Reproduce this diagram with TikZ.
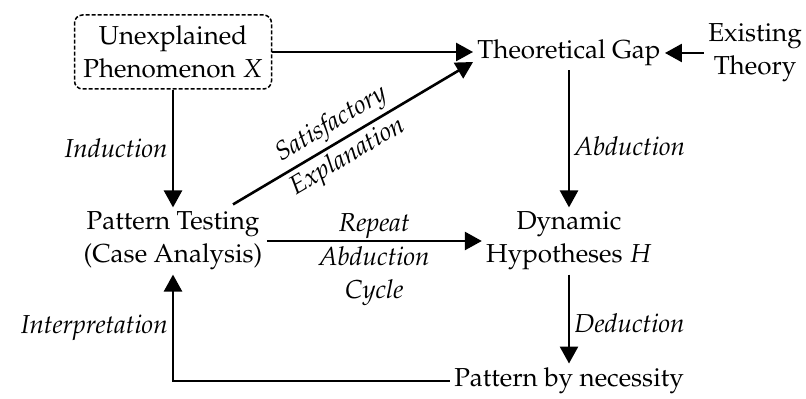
\documentclass[tikz,border=0pt]{standalone}
\usepackage[T1]{fontenc}
\usepackage{mathpazo}
\usetikzlibrary{calc,positioning,arrows.meta}

\begin{document}
\begin{tikzpicture}[x=0.5pt,y=-0.5pt]
	\tikzstyle{concept}=[text centered, align=center, text=black, font=\fontsize{13}{16.5}\selectfont, inner sep=2pt]
	\tikzstyle{observed}=[concept, draw, dash pattern=on 2pt off 1pt, rounded corners=4pt, minimum width=98.5pt, minimum height=37pt, line width=0.75pt]
	\tikzstyle{infer}=[-{Triangle[length=8.5pt,width=9pt]}, draw=black, line width=1.3pt]
	\tikzstyle{lbl}=[font=\fontsize{13}{16.5}\selectfont\itshape, align=center, inner sep=2pt]

	\useasboundingbox (0,0) rectangle (806,399);

	\node (ux) [observed] at (173,52) {Unexplained\\Phenomenon $X$};
	\node (gap) [concept] at (569,53) {Theoretical Gap};
	\node (ext) [concept] at (755,53) {Existing\\Theory};
	\node (hyp) [concept] at (569,241) {Dynamic\\Hypotheses $H$};
	\node (pt) [concept] at (ux |- hyp) {Pattern Testing\\(Case Analysis)};
	\node (nec) [concept] at (569,381) {Pattern by necessity};

	\draw[infer] (ux.east) -- (ux.east -| gap.west);
	\draw[infer] (ext.west) -- (gap.east);
	\draw[infer] (gap.south) -- node[lbl, right, pos=0.55] {Abduction} (hyp.north);
	\draw[infer] (hyp.south) -- node[lbl, right, pos=0.55] {Deduction} (nec.north);
	\draw[infer] (ux.south) -- node[lbl, left] {Induction} (pt.north);
	\draw[infer] (pt.east) -- node[lbl, above, inner sep=0.5pt] {Repeat} node[lbl, below] {Abduction\\Cycle} (pt.east -| hyp.west);
	\draw[infer] ([xshift=30pt,yshift=1.5pt]pt.north) -- node[lbl, sloped, above, pos=0.45] {Satisfactory} node[lbl, sloped, below, pos=0.44] {Explanation} ([yshift=-4.5pt]gap.west);
	\draw[infer] (nec.west) -| node[lbl, left, pos=0.75] {Interpretation} (pt.south);

\end{tikzpicture}
\end{document}
